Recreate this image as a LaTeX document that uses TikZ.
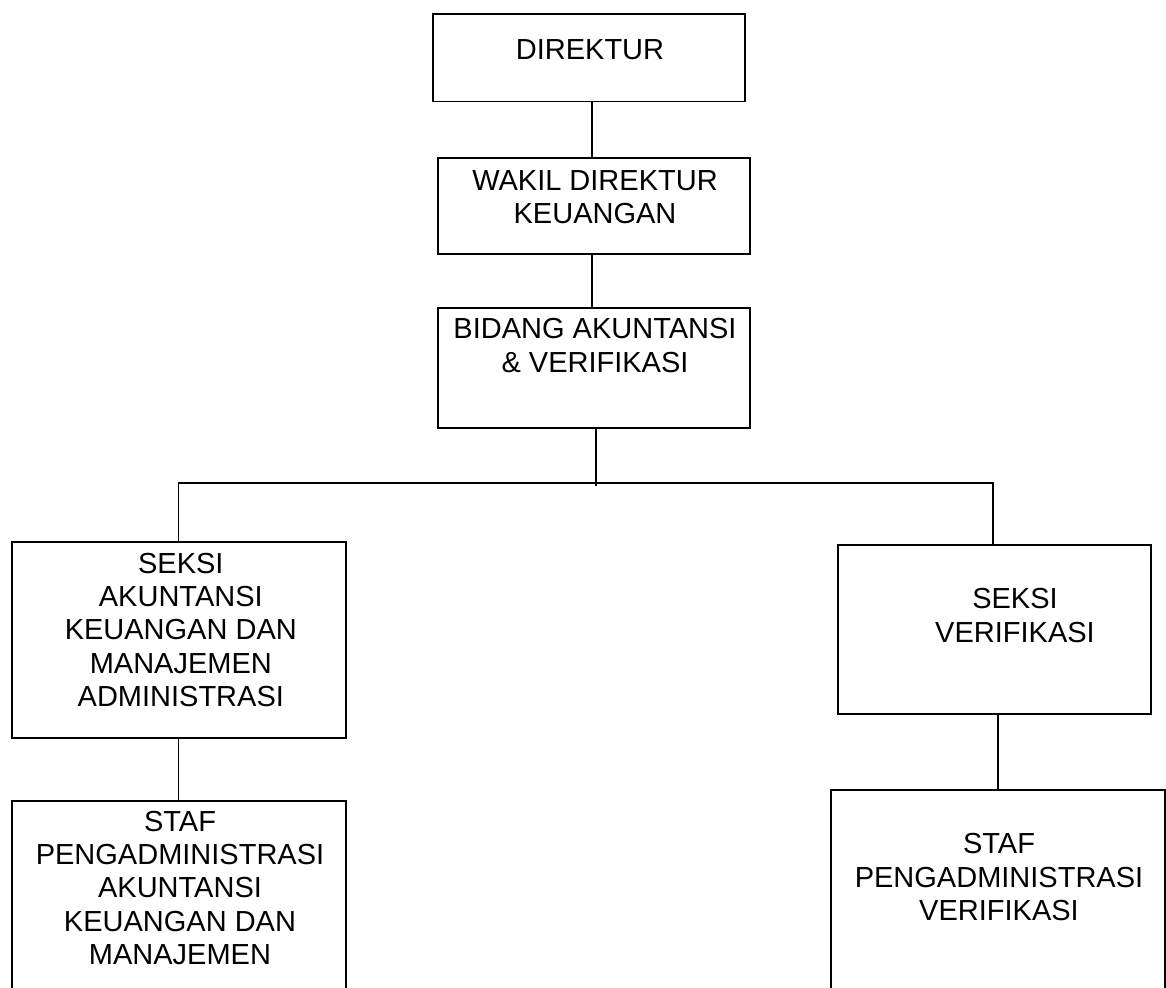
\documentclass[tikz,border=0pt]{standalone}
\usepackage{fontspec}
\setmainfont{Liberation Sans}
\begin{document}
\begin{tikzpicture}[x=1pt,y=-1pt,
  box/.style={draw, line width=1.8pt, inner sep=0pt, anchor=north west},
  txt/.style={anchor=north, inner sep=0pt, align=center, font=\fontsize{29}{33.4}\selectfont},
  link/.style={line width=1.8pt}]
\useasboundingbox (0,0) rectangle (1166,987);
\clip (0,0) rectangle (1166,987);
% boxes
\node[box, minimum width=312.3pt, minimum height=87.4pt] (d) at (431.7,13.3) {};
\node[box, minimum width=312pt, minimum height=96pt] (w) at (437.3,157.3) {};
\node[box, minimum width=312pt, minimum height=120pt] (b) at (437.3,307.3) {};
\node[box, minimum width=334.3pt, minimum height=196.3pt] (sl) at (11,541) {};
\node[box, minimum width=334.3pt, minimum height=220pt] (fl) at (11,800) {};
\node[box, minimum width=312.7pt, minimum height=169.3pt] (sr) at (837,544) {};
\node[box, minimum width=334pt, minimum height=230pt] (fr) at (830,789) {};
% texts
\node[txt] (td) at (590,39.3) {DIREKTUR};
\node[txt] (tw) at (595,170) {WAKIL DIREKTUR\\KEUANGAN};
\node[txt] (tb) at (595,318.3) {BIDANG AKUNTANSI\\\& VERIFIKASI};
\node[txt] (tsl) at (180.8,552.7) {SEKSI\\AKUNTANSI\\KEUANGAN DAN\\MANAJEMEN\\ADMINISTRASI};
\node[txt] (tfl) at (180,810.7) {STAF\\PENGADMINISTRASI\\AKUNTANSI\\KEUANGAN DAN\\MANAJEMEN};
\node[txt] (tsr) at (1015,588.3) {SEKSI\\VERIFIKASI};
\node[txt] (tfr) at (999,833.3) {STAF\\PENGADMINISTRASI\\VERIFIKASI};
% connector guide coordinates
\coordinate (xa) at (592,0);
\coordinate (xb) at (596,0);
\coordinate (xl) at (178.5,0);
\coordinate (xr) at (993,0);
\coordinate (xr2) at (997.7,0);
\coordinate (bend) at (596,486);
\coordinate (hy) at (0,483.3);
% connectors
\draw[link] (d.south -| xa) -- (w.north -| xa);
\draw[link] (w.south -| xa) -- (b.north -| xa);
\draw[link] (b.south -| xb) -- (bend);
\draw[link] (sl.north -| xl) -- (hy -| xl) -- (hy -| xr) -- (sr.north -| xr);
\draw[link] (sl.south -| xl) -- (fl.north -| xl);
\draw[link] (sr.south -| xr2) -- (fr.north -| xr2);
\end{tikzpicture}
\end{document}
